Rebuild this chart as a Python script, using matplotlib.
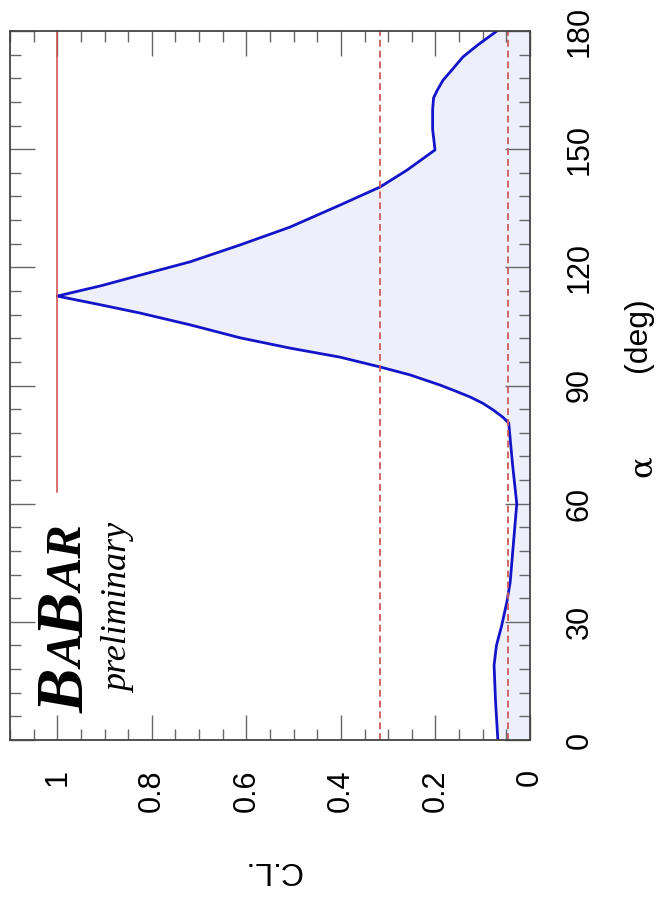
import matplotlib
matplotlib.use("Agg")
import matplotlib.pyplot as plt
from matplotlib.ticker import MultipleLocator

# alpha scan (deg) and confidence level
alpha = [0, 10, 19, 24, 29, 35, 40, 50, 60, 70, 80.5, 82, 83.8, 85.5, 87.1, 88.7,
         90.1, 92.7, 94.7, 97.2, 99.5, 102.1, 105.4, 108.4, 110.4, 112.7, 115.4,
         118.0, 121.4, 125.7, 130.2, 135.8, 140.4, 144.7, 149.8, 152, 155, 160,
         163, 165, 167.5, 170, 173.4, 176.5, 180]
cl = [0.068, 0.073, 0.076, 0.071, 0.060, 0.049, 0.042, 0.035, 0.028, 0.037, 0.045,
      0.058, 0.078, 0.100, 0.127, 0.160, 0.190, 0.254, 0.317, 0.402, 0.508, 0.613,
      0.719, 0.825, 0.905, 1.0, 0.905, 0.825, 0.719, 0.613, 0.508, 0.402, 0.317,
      0.260, 0.201, 0.203, 0.206, 0.206, 0.204, 0.196, 0.184, 0.166, 0.142, 0.110,
      0.070]

one_sigma = 0.317
two_sigma = 0.046
best_alpha_from = 63

fig = plt.figure(figsize=(6.61, 9.00), dpi=100)
ax = fig.add_axes([10 / 661, 160 / 900, 520 / 661, 709 / 900])

ax.fill_betweenx(alpha, 0, cl, color="#edf0fc", lw=0)
ax.plot(cl, alpha, color="#1414c8", lw=2.0, solid_joinstyle="round")
ax.axvline(one_sigma, color="#cc5a5a", lw=1.3, ls=(0, (3.8, 2.2)))
ax.axvline(two_sigma, color="#cc5a5a", lw=1.3, ls=(0, (3.8, 2.2)))
ax.plot([1, 1], [best_alpha_from, 180], color="#cc4a4a", lw=1.1)

ax.set_xlim(1.1, 0)
ax.set_ylim(0, 180)
ax.xaxis.set_major_locator(MultipleLocator(0.2))
ax.xaxis.set_minor_locator(MultipleLocator(0.05))
ax.yaxis.set_major_locator(MultipleLocator(30))
ax.yaxis.set_minor_locator(MultipleLocator(6))
ax.xaxis.set_major_formatter(plt.FuncFormatter(lambda v, p: f"{v:g}"))

for s in ax.spines.values():
    s.set_color("#444444")
    s.set_linewidth(1.3)
ax.tick_params(which="both", direction="in", top=True, bottom=True, left=True,
               right=True, labelleft=False, labelright=True, color="#666666")
ax.tick_params(which="major", length=18, width=1.0)
ax.tick_params(which="minor", length=8, width=1.0)
ax.tick_params(axis="x", pad=21, labelsize=22)
ax.tick_params(axis="y", pad=25, labelsize=22)
for lab in ax.get_xticklabels():
    lab.set_rotation(90)
    lab.set_fontfamily("Liberation Sans")
for lab in ax.get_yticklabels():
    lab.set_rotation(90)
    lab.set_va("center")
    lab.set_fontfamily("Liberation Sans")

fig.text(272 / 661, 1 - 870 / 900, "C.L.", rotation=180, fontsize=23,
         family="Liberation Sans", ha="center", va="center")
fig.text(642 / 661, 1 - 466 / 900, "α", rotation=90, fontsize=23,
         family="DejaVu Serif", ha="center", va="center")
fig.text(638 / 661, 1 - 335 / 900, "(deg)", rotation=90, fontsize=23,
         family="Liberation Sans", ha="center", va="center")

# BaBar logo in mixed sizes, stacked along the rotated baseline
renderer = fig.canvas.get_renderer()
y = 1 - 713 / 900
for letters, size in [("B", 48), ("A", 36), ("B", 48), ("AR", 36)]:
    t = fig.text(84 / 661, y, letters, rotation=90, rotation_mode="anchor",
                 ha="left", va="baseline", fontsize=size, family="Liberation Serif",
                 style="italic", weight="bold")
    bb = t.get_window_extent(renderer)
    y = bb.y1 / fig.bbox.height - 0.001
fig.text(128 / 661, 1 - 693 / 900, "preliminary", rotation=90, rotation_mode="anchor",
         ha="left", va="baseline", fontsize=26, family="Liberation Serif", style="italic")

fig.savefig("out.png", dpi=100)
